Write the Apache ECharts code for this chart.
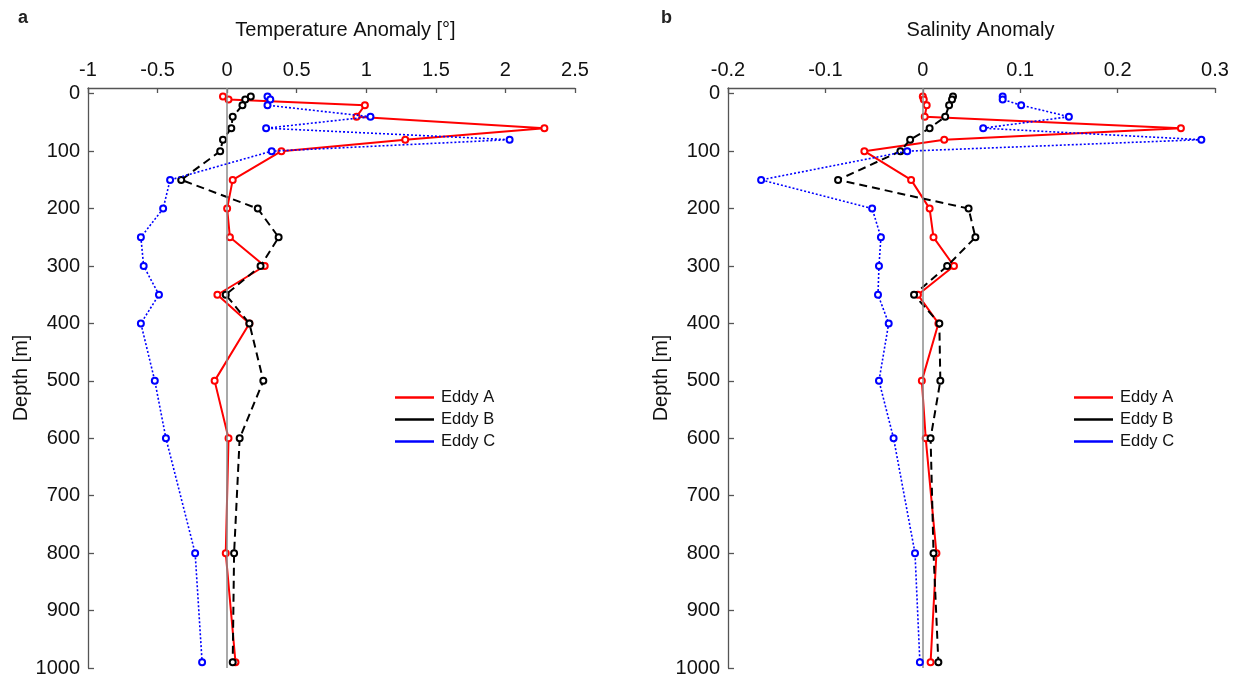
<!DOCTYPE html>
<html>
<head>
<meta charset="utf-8">
<script src="https://cdn.jsdelivr.net/npm/echarts@6/dist/echarts.min.js"></script>
<style>html,body{margin:0;padding:0;background:#fff;}#c{width:1242px;height:678px;}</style>
</head>
<body>
<div id="c"></div>
<script>
// ---- data ----
var depths = [5, 10, 20, 40, 60, 80, 100, 150, 200, 250, 300, 350, 400, 500, 600, 800, 990];
var depthTicks = [0, 100, 200, 300, 400, 500, 600, 700, 800, 900, 1000];
var seriesNames = ['Eddy A', 'Eddy B', 'Eddy C'];
var tempA = [-0.03, 0.01, 0.99, 0.93, 2.28, 1.28, 0.39, 0.04, 0.00, 0.02, 0.27, -0.07, 0.16, -0.09, 0.01, -0.01, 0.06];
var tempB = [0.17, 0.13, 0.11, 0.04, 0.03, -0.03, -0.05, -0.33, 0.22, 0.37, 0.24, -0.01, 0.16, 0.26, 0.09, 0.05, 0.04];
var tempC = [0.29, 0.31, 0.29, 1.03, 0.28, 2.03, 0.32, -0.41, -0.46, -0.62, -0.60, -0.49, -0.62, -0.52, -0.44, -0.23, -0.18];
var salA = [0.000, 0.001, 0.004, 0.002, 0.265, 0.022, -0.060, -0.012, 0.007, 0.011, 0.032, -0.005, 0.016, -0.001, 0.003, 0.014, 0.008];
var salB = [0.031, 0.030, 0.027, 0.023, 0.007, -0.013, -0.023, -0.087, 0.047, 0.054, 0.025, -0.009, 0.017, 0.018, 0.008, 0.011, 0.016];
var salC = [0.082, 0.082, 0.101, 0.150, 0.062, 0.286, -0.016, -0.166, -0.052, -0.043, -0.045, -0.046, -0.035, -0.045, -0.030, -0.008, -0.003];

var FONT = "'Liberation Sans', Arial, sans-serif";
var colors = ['#ff0000', '#000000', '#0000ff'];
var lineStyles = [
  {width: 2, type: 'solid'},
  {width: 2, type: [8, 5]},
  {width: 1.6, type: [2, 2]}
];

function pairs(vals) { return vals.map(function (v, i) { return [v, depths[i]]; }); }

function makeSeries(idx, grid, vals, withZero) {
  var s = {
    name: seriesNames[idx],
    type: 'line',
    xAxisIndex: grid, yAxisIndex: grid,
    data: pairs(vals),
    symbol: 'emptyCircle',
    symbolSize: 6,
    color: colors[idx],
    itemStyle: {color: colors[idx], borderWidth: 1.6},
    lineStyle: Object.assign({color: colors[idx]}, lineStyles[idx]),
    animation: false,
    z: 3 + idx
  };
  if (withZero) {
    s.markLine = {
      silent: true, symbol: 'none', animation: false,
      label: {show: false},
      lineStyle: {color: '#8c8c8c', width: 1.5, type: 'solid'},
      data: [{xAxis: 0}]
    };
  }
  return s;
}

var axisLineStyle = {color: '#555', width: 1.3};

function xAx(grid, min, max, interval, name, pad) {
  return {
    gridIndex: grid, type: 'value', position: 'top',
    min: min, max: max, interval: interval,
    name: name, nameLocation: 'middle', nameGap: 48,
    nameTextStyle: {fontFamily: FONT, fontSize: 20, color: '#111', padding: pad},
    axisLine: {show: true, onZero: false, lineStyle: axisLineStyle},
    axisTick: {show: true, inside: true, length: 5, lineStyle: axisLineStyle},
    axisLabel: {fontFamily: FONT, fontSize: 20, color: '#111', margin: 8},
    splitLine: {show: false}
  };
}
function yAx(grid) {
  return {
    gridIndex: grid, type: 'value', inverse: true,
    min: -10, max: 1000,
    name: 'Depth [m]', nameLocation: 'middle', nameGap: 56, nameRotate: 90,
    nameTextStyle: {fontFamily: FONT, fontSize: 20, color: '#111'},
    axisLine: {show: true, onZero: false, lineStyle: axisLineStyle},
    axisTick: {show: true, inside: true, length: 6, lineStyle: axisLineStyle, customValues: depthTicks},
    axisLabel: {fontFamily: FONT, fontSize: 20, color: '#111', margin: 8, customValues: depthTicks,
      formatter: function (v) { return String(v); }},
    splitLine: {show: false}
  };
}
function legendAt(left) {
  return {
    left: left, top: 384, orient: 'vertical',
    itemWidth: 39, itemHeight: 2.6, itemGap: 5,
    textStyle: {fontFamily: FONT, fontSize: 16.5, color: '#111', padding: [0, 0, 0, 2]},
    data: seriesNames.map(function (n, i) { return {name: n, icon: 'rect', itemStyle: {color: colors[i], borderWidth: 0}}; })
  };
}

var chart = echarts.init(document.getElementById('c'), null, {renderer: 'canvas'});
chart.setOption({
  backgroundColor: '#fff',
  animation: false,
  title: [
    {text: 'a', left: 13, top: 4, textStyle: {fontFamily: FONT, fontSize: 18, fontWeight: 'bold', color: '#222'}},
    {text: 'b', left: 656, top: 4, textStyle: {fontFamily: FONT, fontSize: 18, fontWeight: 'bold', color: '#222'}}
  ],
  grid: [
    {left: 88, top: 88, width: 487, height: 580},
    {left: 728, top: 88, width: 487, height: 580}
  ],
  xAxis: [
    xAx(0, -1, 2.5, 0.5, 'Temperature Anomaly [°]', [0, 0, 0, 28]),
    xAx(1, -0.2, 0.3, 0.1, 'Salinity Anomaly', [0, 0, 0, 18])
  ],
  yAxis: [yAx(0), yAx(1)],
  legend: [legendAt(390), legendAt(1069)],
  series: [
    makeSeries(0, 0, tempA, true),
    makeSeries(1, 0, tempB, false),
    makeSeries(2, 0, tempC, false),
    makeSeries(0, 1, salA, true),
    makeSeries(1, 1, salB, false),
    makeSeries(2, 1, salC, false)
  ]
});
</script>
</body>
</html>
